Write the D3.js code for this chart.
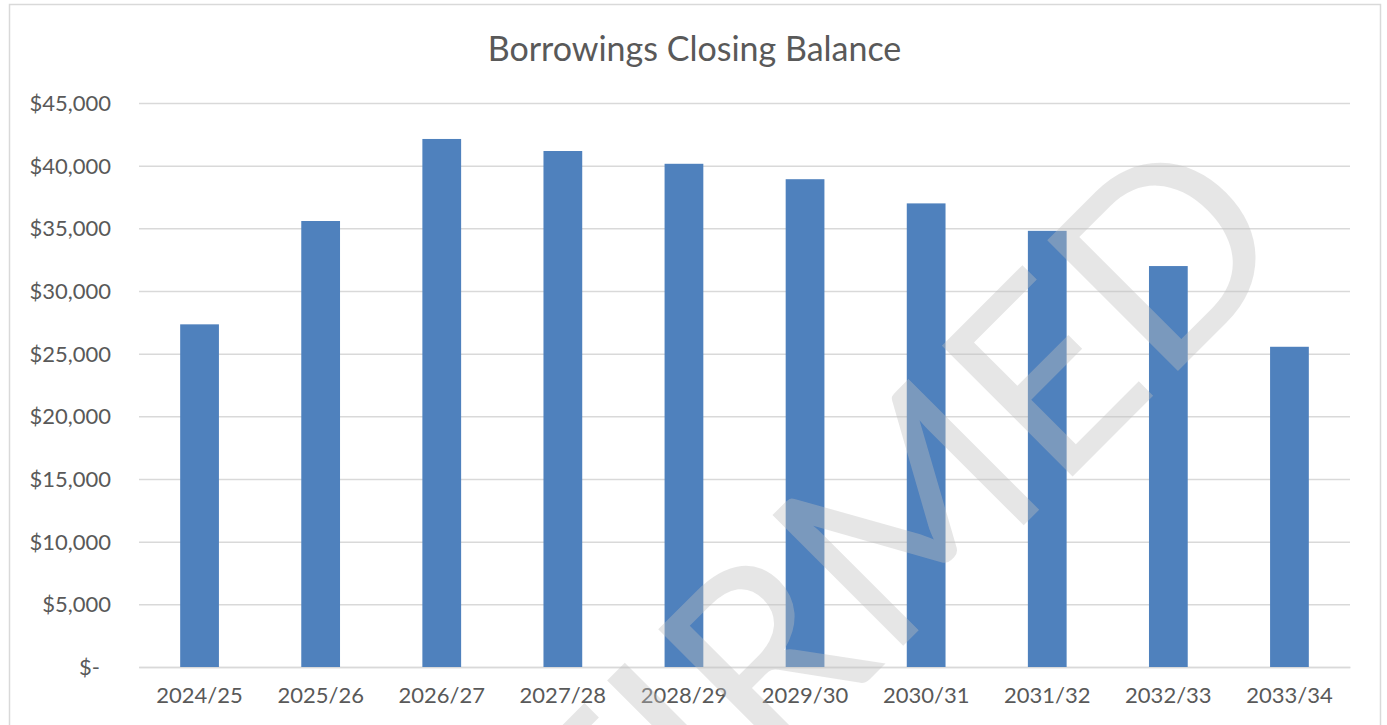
<!DOCTYPE html>
<html>
<head>
<meta charset="utf-8">
<script src="https://cdn.jsdelivr.net/npm/d3@7"></script>
<style>
  body { margin: 0; background: #fff; }
  text { font-family: Lato, "Open Sans", sans-serif; fill: #595959; }
</style>
</head>
<body>
<div id="chart"></div>
<script>
// data
let years = ["2024/25", "2025/26", "2026/27", "2027/28", "2028/29",
             "2029/30", "2030/31", "2031/32", "2032/33", "2033/34"]
let balances = [27340, 35585, 42130, 41170, 40150, 38920, 36990, 34800, 31990, 25550]
let yTicks = [0, 5000, 10000, 15000, 20000, 25000, 30000, 35000, 40000, 45000]
let chartTitle = "Borrowings Closing Balance"
let watermark = "UNCONFIRMED"

let svgWidth = 1387
let svgHeight = 725
let margin = { top: 103, right: 37, bottom: 58, left: 139 }
let width = svgWidth - margin.left - margin.right
let height = svgHeight - margin.top - margin.bottom

let svg = d3.select("#chart")
    .append("svg")
    .attr("width", svgWidth)
    .attr("height", svgHeight)

// outer chart border
svg.append("rect")
    .attr("x", 9.5)
    .attr("y", 4.5)
    .attr("width", 1371)
    .attr("height", 760)
    .attr("fill", "none")
    .attr("stroke", "#d9d9d9")
    .attr("stroke-width", 1.5)

svg.append("text")
    .attr("x", 694.5)
    .attr("y", 61)
    .attr("text-anchor", "middle")
    .style("font-size", "34px")
    .text(chartTitle)

let chartGroup = svg.append("g")
    .attr("transform", `translate(${margin.left}, ${margin.top})`)

let xScale = d3.scaleBand()
    .domain(years)
    .range([0, width])
    .paddingInner(0.68)
    .paddingOuter(0.34)

let yScale = d3.scaleLinear()
    .domain([0, 45000])
    .range([height, 0])

let fmt = d3.format("$,")
let leftAxis = d3.axisLeft(yScale)
    .tickValues(yTicks)
    .tickSize(-width)
    .tickPadding(28)
    .tickFormat(d => d === 0 ? "$-" : fmt(d))

let yAxisG = chartGroup.append("g").call(leftAxis)
yAxisG.select(".domain").remove()
yAxisG.selectAll(".tick line")
    .attr("stroke", "#d9d9d9")
    .attr("stroke-width", 1.5)
yAxisG.selectAll(".tick text")
    .style("font-size", "22px")
    .attr("fill", "#595959")
    .attr("dy", "0.34em")
yAxisG.selectAll(".tick text")
    .filter(d => d === 0)
    .attr("dx", -11)

let bottomAxis = d3.axisBottom(xScale).tickSize(0).tickPadding(20)
let xAxisG = chartGroup.append("g")
    .attr("transform", `translate(0, ${height})`)
    .call(bottomAxis)
xAxisG.select(".domain")
    .attr("stroke", "#d9d9d9")
    .attr("stroke-width", 1.5)
xAxisG.selectAll(".tick text")
    .style("font-size", "22px")
    .attr("fill", "#595959")

chartGroup.selectAll(".bar")
    .data(balances)
    .enter()
    .append("rect")
    .attr("class", "bar")
    .attr("x", (d, i) => xScale(years[i]))
    .attr("y", d => yScale(d))
    .attr("width", xScale.bandwidth())
    .attr("height", d => height - yScale(d))
    .attr("fill", "#4f81bd")

// draft watermark laid over the chart
svg.append("text")
    .attr("transform", "translate(1300, 249) rotate(-45)")
    .attr("text-anchor", "end")
    .style("font-size", "258px")
    .style("fill", "rgb(190,190,190)")
    .style("fill-opacity", 0.39)
    .text(watermark)
</script>
</body>
</html>
